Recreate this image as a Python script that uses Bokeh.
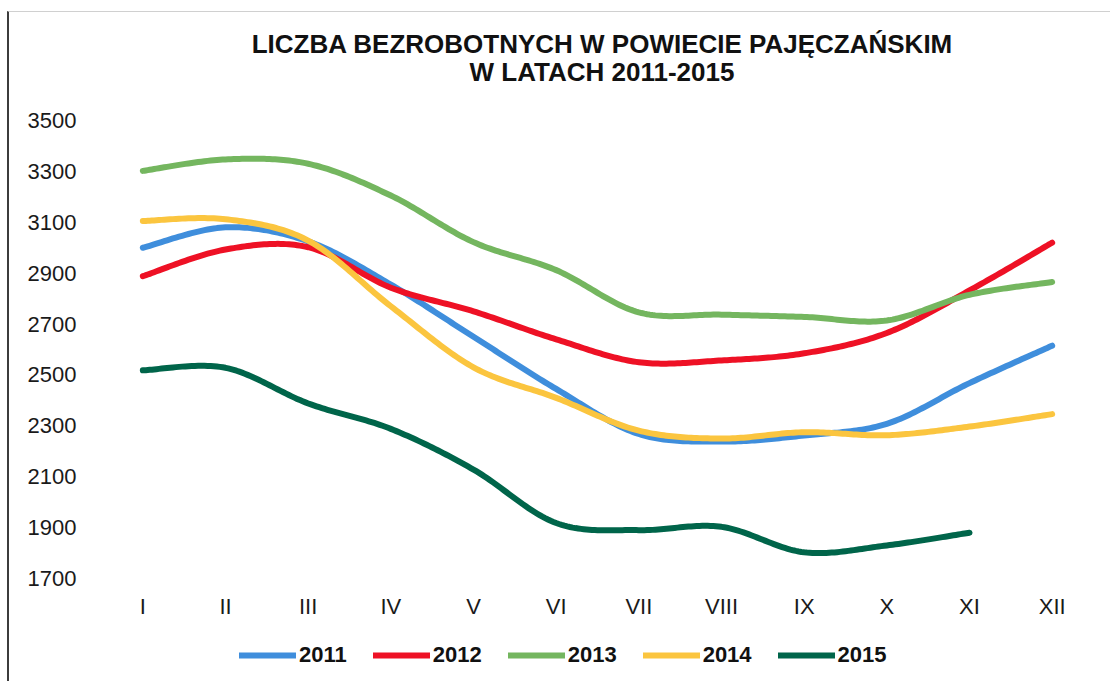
import numpy as np
from bokeh.plotting import figure
from bokeh.models import Range1d, FixedTicker, Legend, LegendItem, Div
from bokeh.layouts import column
from bokeh.embed import file_html
from bokeh.resources import INLINE

months = ["I", "II", "III", "IV", "V", "VI", "VII", "VIII", "IX", "X", "XI", "XII"]
years = ["2011", "2012", "2013", "2014", "2015"]
y2011 = [3000, 3080, 3025, 2855, 2650, 2445, 2268, 2238, 2262, 2308, 2468, 2615]
y2012 = [2888, 2993, 3002, 2843, 2750, 2640, 2550, 2557, 2585, 2665, 2832, 3020]
y2013 = [3302, 3347, 3330, 3205, 3022, 2912, 2746, 2737, 2728, 2714, 2815, 2865]
y2014 = [3105, 3112, 3028, 2770, 2530, 2410, 2281, 2250, 2275, 2263, 2297, 2346]
y2015 = [2518, 2528, 2388, 2288, 2128, 1918, 1890, 1903, 1803, 1830, 1880]
colors = ["#3F8EDC", "#EE1125", "#74B65F", "#FBC53F", "#00654A"]
series = [y2011, y2012, y2013, y2014, y2015]
title_lines = ["LICZBA BEZROBOTNYCH W POWIECIE PAJĘCZAŃSKIM", "W LATACH 2011-2015"]


def smooth(xs, ys, n=30):
    xs = np.asarray(xs, float)
    ys = np.asarray(ys, float)
    px = np.concatenate([[xs[0]], xs, [xs[-1]]])
    py = np.concatenate([[ys[0]], ys, [ys[-1]]])
    ox, oy = [], []
    t = np.linspace(0, 1, n, endpoint=False)
    for i in range(1, len(px) - 2):
        p0 = np.array([px[i], py[i]])
        p3 = np.array([px[i + 1], py[i + 1]])
        c1 = p0 + (p3 - np.array([px[i - 1], py[i - 1]])) / 6.0
        c2 = p3 - (np.array([px[i + 2], py[i + 2]]) - p0) / 6.0
        b = ((1 - t) ** 3)[:, None] * p0 + (3 * (1 - t) ** 2 * t)[:, None] * c1 \
            + (3 * (1 - t) * t ** 2)[:, None] * c2 + (t ** 3)[:, None] * p3
        ox.extend(b[:, 0]); oy.extend(b[:, 1])
    ox.append(xs[-1]); oy.append(ys[-1])
    return ox, oy


title = Div(text="<br>".join(title_lines), width=1101, height=74, margin=0,
            styles={"text-align": "center", "font-family": "Liberation Sans",
                    "font-weight": "bold", "font-size": "26px", "line-height": "28px",
                    "color": "#111111", "padding-top": "18px", "box-sizing": "border-box",
                    "padding-left": "85px"})

p = figure(frame_width=992, frame_height=458, output_backend="svg", toolbar_location=None,
           x_range=Range1d(0.5, 12.5), y_range=Range1d(1700, 3500),
           min_border_left=92, min_border_right=8, min_border_top=34, min_border_bottom=0,
           margin=0)
p.outline_line_color = None
p.grid.visible = False
p.background_fill_color = "white"
p.border_fill_color = "white"

for ax in (p.xaxis[0], p.yaxis[0]):
    ax.axis_line_color = None
    ax.major_tick_line_color = None
    ax.minor_tick_line_color = None
    ax.major_tick_out = 0
    ax.major_tick_in = 0
    ax.minor_tick_out = 0
    ax.minor_tick_in = 0
    ax.major_label_text_font = "Liberation Sans"
    ax.major_label_text_font_size = "22px"
    ax.major_label_text_color = "#1a1a1a"

p.yaxis.ticker = FixedTicker(ticks=list(range(1700, 3501, 200)))
p.yaxis.major_label_standoff = 25
p.xaxis.ticker = FixedTicker(ticks=list(range(1, 13)))
p.xaxis.major_label_overrides = {i + 1: m for i, m in enumerate(months)}
p.xaxis.major_label_standoff = 15

for yr, vals, c in zip(years, series, colors):
    xs = list(range(1, len(vals) + 1))
    sx, sy = smooth(xs, vals)
    p.line(sx, sy, line_color=c, line_width=6, line_cap="round", line_join="round")

# legend strip below the chart; its renderers carry the same series styles
# (their data lies outside this strip's ranges, so only the legend swatches show)
pl = figure(width=1101, height=60, output_backend="svg", toolbar_location=None,
            x_range=Range1d(0, 1), y_range=Range1d(0, 1), min_border=0, margin=0)
pl.axis.visible = False
pl.grid.visible = False
pl.outline_line_color = None
items = []
for yr, vals, c in zip(years, series, colors):
    xs = list(range(1, len(vals) + 1))
    r = pl.line(xs, vals, line_color=c, line_width=6, line_cap="round")
    items.append(LegendItem(label=yr, renderers=[r]))
legend = Legend(items=items, orientation="horizontal", location=(138, 13),
                glyph_width=57, glyph_height=20, label_standoff=3, spacing=26,
                label_text_font="Liberation Sans", label_text_font_size="22px",
                label_text_font_style="bold", label_text_color="#111111",
                padding=0, margin=0, border_line_color=None, background_fill_alpha=0)
pl.add_layout(legend, "center")

layout = column(title, p, pl, spacing=0, margin=(11, 0, 0, 7),
                styles={"border-left": "2px solid #3c3c3c", "border-top": "1px solid #d0d0d0"})
open("out.html", "w").write(file_html(layout, INLINE))
